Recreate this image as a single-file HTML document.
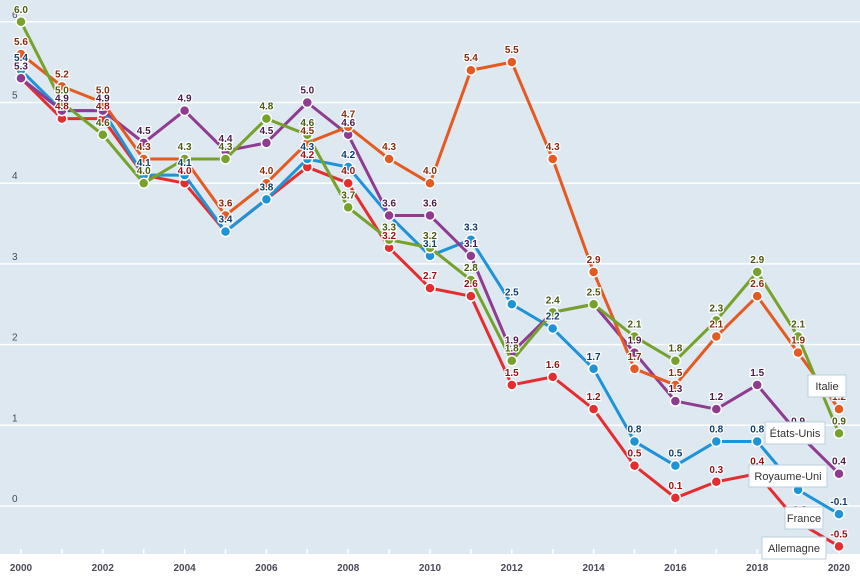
<!DOCTYPE html>
<html><head><meta charset="utf-8"><style>
html,body{margin:0;padding:0;background:#fff;}
svg{display:block;font-family:"Liberation Sans",sans-serif;}
</style></head><body>
<svg id="chart" width="860" height="580">
<rect x="0" y="0" width="860" height="554" fill="#dde8f0"/>
<g id="grid"></g><g id="xaxis"></g><g id="series"></g><g id="labels"></g><g id="legend"></g>
</svg>
<script>
const years=[2000,2001,2002,2003,2004,2005,2006,2007,2008,2009,2010,2011,2012,2013,2014,2015,2016,2017,2018,2019,2020];
const yTicks=[0,1,2,3,4,5,6];
const xTickLabels=[2000,2002,2004,2006,2008,2010,2012,2014,2016,2018,2020];
const allemagne=[5.3,4.8,4.8,4.1,4.0,3.4,3.8,4.2,4.0,3.2,2.7,2.6,1.5,1.6,1.2,0.5,0.1,0.3,0.4,-0.2,-0.5];
const france=[5.4,4.9,4.9,4.1,4.1,3.4,3.8,4.3,4.2,3.6,3.1,3.3,2.5,2.2,1.7,0.8,0.5,0.8,0.8,0.2,-0.1];
const royaumeUni=[5.3,4.9,4.9,4.5,4.9,4.4,4.5,5.0,4.6,3.6,3.6,3.1,1.9,2.4,2.5,1.9,1.3,1.2,1.5,0.9,0.4];
const italie=[5.6,5.2,5.0,4.3,4.3,3.6,4.0,4.5,4.7,4.3,4.0,5.4,5.5,4.3,2.9,1.7,1.5,2.1,2.6,1.9,1.2];
const etatsUnis=[6.0,5.0,4.6,4.0,4.3,4.3,4.8,4.6,3.7,3.3,3.2,2.8,1.8,2.4,2.5,2.1,1.8,2.3,2.9,2.1,0.9];
const seriesNames=["Allemagne","France","Royaume-Uni","Italie","États-Unis"];
const NS="http://www.w3.org/2000/svg";
const x=y=>21+(y-2000)*40.9;
const yv=v=>506-80.7*v;
function mk(tag,attrs,parent){const e=document.createElementNS(NS,tag);for(const k in attrs)e.setAttribute(k,attrs[k]);parent.appendChild(e);return e;}
const grid=document.getElementById('grid');
yTicks.forEach(t=>{
 const l=mk('line',{x1:0,x2:860,y1:yv(t),y2:yv(t),stroke:'#fff','stroke-width':1.5},grid);
 
 
 const tx=mk('text',{x:12,y:yv(t)-4,'font-size':10,fill:'#4a4a5a'},grid);
 tx.textContent=t;
 
 
});
const xa=document.getElementById('xaxis');
years.forEach(y=>{
 const l=mk('line',{x1:x(y),x2:x(y),y1:549,y2:554,stroke:'#fff','stroke-width':1.5},xa);
 
 
});
xTickLabels.forEach(y=>{
 const t=mk('text',{x:x(y),y:571,'font-size':10,'font-weight':'bold','text-anchor':'middle',fill:'#4a4a5a'},xa);
 t.textContent=y;
 
 
});
const data=[allemagne,france,royaumeUni,italie,etatsUnis];
const colors=['#e52d2f','#1d93d8','#8f3b90','#e55a20','#76a22b'];
const dark=['#9a0e14','#0d3f6e','#4a1a4a','#8a2a08','#4a5a10'];
const sg=document.getElementById('series'),lg=document.getElementById('labels');
data.forEach((vals,i)=>{
 const g=mk('g',{},sg);
 
 
 const p=mk('polyline',{points:vals.map((v,j)=>x(years[j])+','+yv(v)).join(' '),fill:'none',stroke:colors[i],'stroke-width':3,'stroke-linejoin':'round'},g);
 
 
 vals.forEach((v,j)=>{
  const c=mk('circle',{cx:x(years[j]),cy:yv(v),r:5,fill:colors[i],stroke:'#fff','stroke-width':1.5},g);
  
  
  const t=mk('text',{x:x(years[j]),y:yv(v)-9,'font-size':10,'font-weight':'bold','text-anchor':'middle',fill:dark[i],stroke:'#fff','stroke-width':2.5,'paint-order':'stroke'},lg);
  t.textContent=v.toFixed(1);
  
  
 });
});
const legendBoxes=[["Italie",808,375,38],["États-Unis",765,422,60],["Royaume-Uni",749,465,78],["France",785,507,38],["Allemagne",762,537,64]];
const lgg=document.getElementById('legend');
legendBoxes.forEach(b=>{
 const g=mk('g',{},lgg);
 
 
 mk('rect',{x:b[1],y:b[2],width:b[3],height:22,fill:'#fff',stroke:'#b8d0e0','stroke-width':1},g);
 const t=mk('text',{x:b[1]+b[3]/2,y:b[2]+15,'font-size':11,'text-anchor':'middle',fill:'#333'},g);
 t.textContent=b[0];
});
</script>
</body></html>
